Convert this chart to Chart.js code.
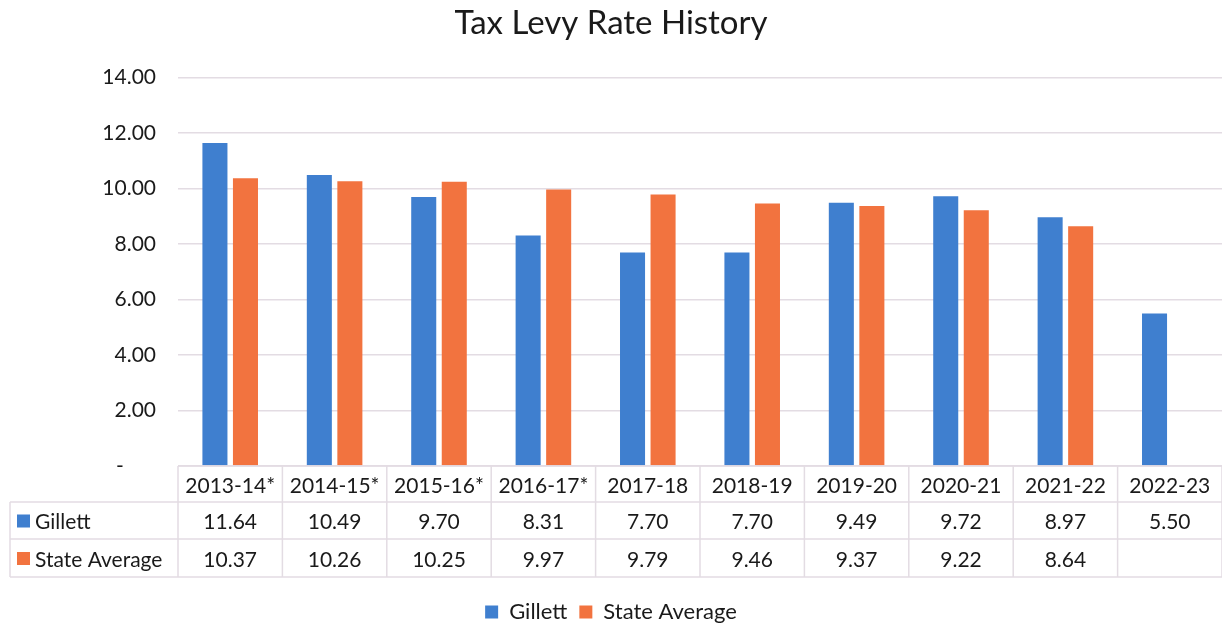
<!DOCTYPE html>
<html>
<head>
<meta charset="utf-8">
<script src="https://cdn.jsdelivr.net/npm/chart.js@4/dist/chart.umd.min.js"></script>
<style>
  html, body { margin: 0; padding: 0; background: #fff; }
  #wrap { width: 1222px; height: 625px; }
</style>
</head>
<body>
<div id="wrap"><canvas id="levyChart"></canvas></div>
<script>
const years = ["2013-14*", "2014-15*", "2015-16*", "2016-17*", "2017-18", "2018-19", "2019-20", "2020-21", "2021-22", "2022-23"];
const gillett = [11.64, 10.49, 9.70, 8.31, 7.70, 7.70, 9.49, 9.72, 8.97, 5.50];
const stateAvg = [10.37, 10.26, 10.25, 9.97, 9.79, 9.46, 9.37, 9.22, 8.64, null];
const yTicks = [0, 2, 4, 6, 8, 10, 12, 14];

const blue = "#3f7fcf";
const orange = "#f2733f";
const gridColor = "#e3dce3";
const font = "Lato, 'Open Sans', sans-serif";

// table below the bars, laid out on the x scale
const dataTable = {
    id: "dataTable",
    afterDraw(chart) {
        const ctx = chart.ctx;
        const x = chart.scales.x;
        const top = chart.chartArea.bottom;
        const rowH = [36, 37, 38];
        const left = 10, right = chart.chartArea.right;
        const step = x.getPixelForTick(1) - x.getPixelForTick(0);
        const colLeft = i => x.getPixelForTick(i) - step / 2;
        const y1 = top + rowH[0], y2 = y1 + rowH[1], y3 = y2 + rowH[2];

        ctx.save();
        ctx.strokeStyle = gridColor;
        ctx.lineWidth = 1.5;
        ctx.beginPath();
        // horizontal lines
        ctx.moveTo(colLeft(0), top); ctx.lineTo(right, top);
        ctx.moveTo(left, y1); ctx.lineTo(right, y1);
        ctx.moveTo(left, y2); ctx.lineTo(right, y2);
        ctx.moveTo(left, y3); ctx.lineTo(right, y3);
        // verticals
        ctx.moveTo(left, y1); ctx.lineTo(left, y3);
        for (let i = 0; i <= years.length; i++) {
            const cx = i < years.length ? colLeft(i) : right;
            ctx.moveTo(cx, top); ctx.lineTo(cx, y3);
        }
        ctx.stroke();

        ctx.fillStyle = "#1a1a1a";
        ctx.font = "21px " + font;
        ctx.textAlign = "center";
        ctx.textBaseline = "middle";
        years.forEach((yr, i) => {
            const cx = x.getPixelForTick(i);
            ctx.fillText(yr, cx, top + rowH[0] / 2 + 2);
            ctx.fillText(gillett[i].toFixed(2), cx, y1 + rowH[1] / 2 + 2);
            if (stateAvg[i] != null) ctx.fillText(stateAvg[i].toFixed(2), cx, y2 + rowH[2] / 2 + 2);
        });

        ctx.textAlign = "left";
        ctx.fillStyle = blue;
        ctx.fillRect(17, y1 + rowH[1] / 2 - 6, 13, 13);
        ctx.fillStyle = orange;
        ctx.fillRect(17, y2 + rowH[2] / 2 - 6, 13, 13);
        ctx.fillStyle = "#1a1a1a";
        ctx.fillText("Gillett", 35, y1 + rowH[1] / 2 + 2);
        ctx.fillText("State Average", 35, y2 + rowH[2] / 2 + 2);
        ctx.restore();
    }
};

new Chart(document.getElementById("levyChart"), {
    type: "bar",
    data: {
        labels: years,
        datasets: [
            { label: "Gillett", data: gillett, backgroundColor: blue },
            { label: "State Average", data: stateAvg, backgroundColor: orange }
        ]
    },
    options: {
        responsive: true,
        maintainAspectRatio: false,
        animation: false,
        categoryPercentage: 0.585,
        barPercentage: 0.82,
        layout: { padding: { top: 4, right: 0, bottom: -8, left: 0 } },
        plugins: {
            title: {
                display: true,
                text: "Tax Levy Rate History",
                color: "#1a1a1a",
                font: { family: font, size: 33, weight: "normal" },
                padding: { top: 0, bottom: 34 }
            },
            legend: {
                position: "bottom",
                labels: {
                    color: "#1a1a1a",
                    font: { family: font, size: 22 },
                    boxWidth: 13, boxHeight: 13, padding: 12
                }
            },
            tooltip: { enabled: false }
        },
        scales: {
            x: {
                grid: { display: false },
                border: { display: false },
                ticks: { display: false },
                afterFit: axis => { axis.height = 123; }
            },
            y: {
                min: 0, max: 14,
                afterFit: axis => { axis.width = 178; },
                afterBuildTicks: axis => { axis.ticks = yTicks.map(v => ({ value: v })); },
                grid: { color: gridColor, lineWidth: 1.5, drawTicks: false },
                border: { display: false },
                ticks: {
                    color: "#1a1a1a",
                    font: { family: font, size: 21 },
                    padding: 22,
                    callback: v => v === 0 ? "-      " : v.toFixed(2)
                }
            }
        }
    },
    plugins: [dataTable]
});
</script>
</body>
</html>
